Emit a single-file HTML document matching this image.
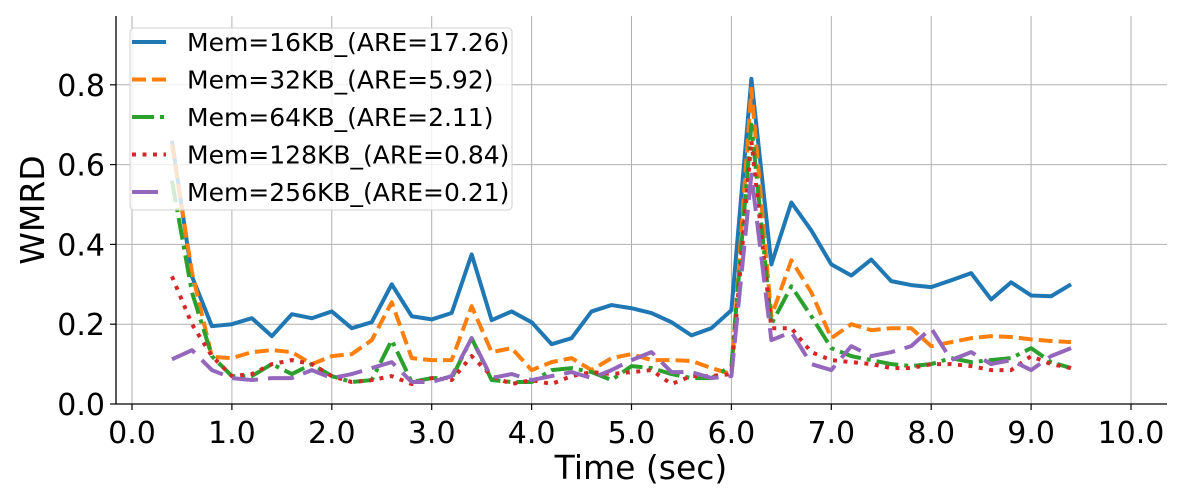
<!DOCTYPE html>
<html><head><meta charset="utf-8"><style>
body{margin:0;background:#fff;}
svg{display:block;font-family:"DejaVu Sans","Liberation Sans",sans-serif;}
</style></head><body>
<svg id="chart" width="1200" height="500"></svg>
<script>
const xValues=[0.4,0.6,0.8,1.0,1.2,1.4,1.6,1.8,2.0,2.2,2.4,2.6,2.8,3.0,3.2,3.4,3.6,3.8,4.0,4.2,4.4,4.6,4.8,5.0,5.2,5.4,5.6,5.8,6.0,6.2,6.4,6.6,6.8,7.0,7.2,7.4,7.6,7.8,8.0,8.2,8.4,8.6,8.8,9.0,9.2,9.4];
const mem16=[0.66,0.32,0.195,0.2,0.215,0.17,0.225,0.215,0.232,0.19,0.205,0.3,0.22,0.212,0.228,0.375,0.21,0.232,0.205,0.15,0.165,0.232,0.248,0.24,0.228,0.205,0.172,0.19,0.235,0.815,0.35,0.505,0.435,0.35,0.322,0.362,0.308,0.298,0.293,0.31,0.328,0.262,0.305,0.272,0.27,0.3];
const mem32=[0.65,0.33,0.118,0.115,0.13,0.135,0.13,0.1,0.12,0.125,0.16,0.255,0.115,0.11,0.11,0.245,0.13,0.14,0.085,0.105,0.115,0.085,0.115,0.125,0.11,0.11,0.108,0.09,0.075,0.79,0.22,0.36,0.28,0.165,0.2,0.185,0.19,0.19,0.145,0.155,0.165,0.17,0.168,0.162,0.158,0.155];
const mem64=[0.56,0.28,0.12,0.07,0.07,0.1,0.075,0.1,0.07,0.055,0.06,0.16,0.055,0.065,0.065,0.165,0.06,0.055,0.055,0.085,0.09,0.08,0.06,0.095,0.09,0.075,0.065,0.065,0.095,0.7,0.2,0.295,0.22,0.14,0.12,0.11,0.1,0.095,0.1,0.115,0.105,0.11,0.115,0.14,0.105,0.09];
const mem128=[0.32,0.2,0.12,0.07,0.075,0.1,0.11,0.1,0.07,0.055,0.06,0.07,0.05,0.065,0.06,0.12,0.07,0.05,0.06,0.05,0.07,0.08,0.075,0.08,0.085,0.05,0.07,0.07,0.075,0.66,0.19,0.19,0.13,0.11,0.105,0.1,0.09,0.09,0.1,0.1,0.095,0.085,0.085,0.12,0.1,0.09];
const mem256=[0.112,0.135,0.085,0.065,0.06,0.065,0.065,0.085,0.065,0.075,0.09,0.105,0.055,0.055,0.07,0.165,0.065,0.075,0.06,0.07,0.08,0.065,0.085,0.11,0.13,0.08,0.08,0.065,0.07,0.575,0.16,0.18,0.1,0.085,0.145,0.12,0.13,0.145,0.19,0.11,0.13,0.1,0.11,0.085,0.12,0.14];
const seriesLabels=["Mem=16KB_(ARE=17.26)","Mem=32KB_(ARE=5.92)","Mem=64KB_(ARE=2.11)","Mem=128KB_(ARE=0.84)","Mem=256KB_(ARE=0.21)"];
const xTicks=[0,1,2,3,4,5,6,7,8,9,10];
const yTicks=[0,0.2,0.4,0.6,0.8];

const NS="http://www.w3.org/2000/svg";
const svg=document.getElementById('chart');
const L=116,R=1167,T=16,B=404;
const xs=v=>132+v*99.9;
const ys=v=>404-v*399;
function mk(tag,attrs,parent){const e=document.createElementNS(NS,tag);for(const k in attrs)e.setAttribute(k,attrs[k]);(parent||svg).appendChild(e);return e;}

const grid=mk('g',{});


xTicks.forEach(t=>{mk('line',{x1:xs(t),x2:xs(t),y1:T,y2:B,stroke:'#b0b0b0','stroke-width':1},grid);});
yTicks.forEach(t=>{mk('line',{x1:L,x2:R,y1:ys(t),y2:ys(t),stroke:'#b0b0b0','stroke-width':1},grid);});

const xa=mk('g',{});


mk('line',{x1:L,x2:R,y1:B,y2:B,stroke:'#000','stroke-width':1.3},xa);
xTicks.forEach(t=>{
  mk('line',{x1:xs(t),x2:xs(t),y1:B,y2:B+6,stroke:'#000','stroke-width':1.2},xa);
  const tx=mk('text',{x:xs(t),y:B+39,'font-size':30,'text-anchor':'middle'},xa);
  tx.textContent=t.toFixed(1);
  
  
});
const ya=mk('g',{});


mk('line',{x1:L,x2:L,y1:T,y2:B,stroke:'#000','stroke-width':1.3},ya);
yTicks.forEach(t=>{
  mk('line',{x1:L-6,x2:L,y1:ys(t),y2:ys(t),stroke:'#000','stroke-width':1.2},ya);
  const tx=mk('text',{x:L-11,y:ys(t)+11,'font-size':30,'text-anchor':'end'},ya);
  tx.textContent=t.toFixed(1);
  
  
});
const xt=mk('text',{x:641,y:479,'font-size':33,'text-anchor':'middle'});
xt.textContent='Time (sec)';


const yt=mk('text',{x:44,y:210,'font-size':33,'text-anchor':'middle',transform:'rotate(-90 44 210)'});
yt.textContent='WMRD';



const styles=[
 {c:'#1f77b4',d:'',w:4},
 {c:'#ff7f0e',d:'14,6',w:4},
 {c:'#2ca02c',d:'22,6,4,6',w:4},
 {c:'#d62728',d:'4,6.5',w:4},
 {c:'#9467bd',d:'26,10',w:4}];
const allSeries=[mem16,mem32,mem64,mem128,mem256];
const names=['series-mem16kb','series-mem32kb','series-mem64kb','series-mem128kb','series-mem256kb'];
allSeries.forEach((s,i)=>{
  const p=mk('polyline',{points:s.map((v,j)=>xs(xValues[j])+','+ys(v)).join(' '),fill:'none',stroke:styles[i].c,'stroke-width':styles[i].w,'stroke-dasharray':styles[i].d,'stroke-linejoin':'round'});
  
  
});

const lg=mk('g',{});


mk('rect',{x:130,y:28,width:382,height:182,rx:4,fill:'rgba(255,255,255,0.8)',stroke:'#d0d0d0','stroke-width':1},lg);
seriesLabels.forEach((lab,i)=>{
  const y=42+i*37.5;
  const e=mk('g',{},lg);
  
  
  mk('line',{x1:132,x2:166,y1:y,y2:y,stroke:styles[i].c,'stroke-width':styles[i].w,'stroke-dasharray':styles[i].d},e);
  const t=mk('text',{x:187,y:y+9,'font-size':25},e);
  t.textContent=lab;
});
</script>
</body></html>
